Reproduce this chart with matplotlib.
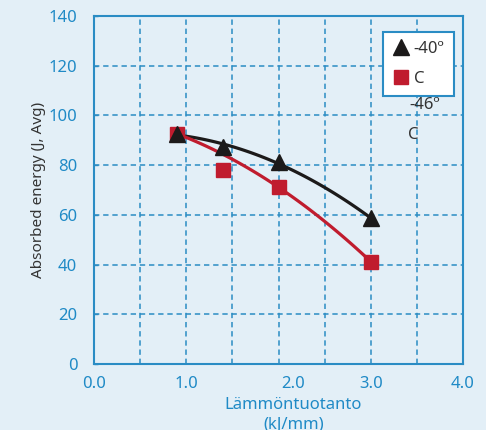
import numpy as np
import matplotlib
matplotlib.use("Agg")
import matplotlib.pyplot as plt
from matplotlib.lines import Line2D
from matplotlib.transforms import ScaledTranslation

# data
heat_input = [0.9, 1.4, 2.0, 3.0]
energy_40 = [92.6, 87.4, 81.4, 58.6]
energy_46 = [92.6, 78.1, 71.1, 41.2]
# trend curve for -46 passes through these points (1.4 sits off the line)
trend46_x = [0.9, 2.0, 3.0]
trend46_y = [92.6, 71.1, 41.2]

xticks = [0.0, 1.0, 2.0, 3.0, 4.0]
yticks = [0, 20, 40, 60, 80, 100, 120, 140]

bg = "#e3eff7"
blue = "#2a8cc4"
tick_blue = "#1f8ac6"
red = "#c01c2e"
black = "#1c1a1a"

plt.rcParams["font.family"] = ["Noto Sans", "DejaVu Sans"]

fig = plt.figure(figsize=(4.86, 4.30), dpi=100, facecolor=bg)
ax = fig.add_axes([0.1934, 0.1535, 0.7593, 0.8093])
ax.set_facecolor(bg)

# grid
for gx in np.arange(0.5, 4.0, 0.5):
    ax.axvline(gx, color=blue, lw=1.1, ls=(0, (3.5, 2.5)), zorder=1)
for gy in yticks[1:-1]:
    ax.axhline(gy, color=blue, lw=1.1, ls=(0, (3.5, 2.5)), zorder=1)

# trend curves
xs = np.linspace(heat_input[0], heat_input[-1], 100)
c40 = np.polyfit(heat_input, energy_40, 2)
ax.plot(xs, np.polyval(c40, xs), color=black, lw=2.3, zorder=2)
c46 = np.polyfit(trend46_x, trend46_y, 2)
xs2 = np.linspace(trend46_x[0], trend46_x[-1], 100)
ax.plot(xs2, np.polyval(c46, xs2), color=red, lw=2.3, zorder=2)

# markers
ax.plot(heat_input, energy_46, ls="none", marker="s", ms=10.5, color=red, zorder=3)
ax.plot(heat_input, energy_40, ls="none", marker="^", ms=11.5, color=black, zorder=4)

ax.set_xlim(0, 4)
ax.set_ylim(0, 140)
ax.set_xticks(xticks)
ax.set_xticklabels([f"{v:.1f}" for v in xticks])
ax.set_yticks(yticks)
ax.tick_params(axis="x", length=0, pad=9, labelsize=12, labelcolor=tick_blue)
ax.tick_params(axis="y", direction="in", length=3, width=1, color=blue,
               pad=12, labelsize=12, labelcolor=tick_blue)
# the 2.0 label sits off to the right in the reference
lbl = ax.get_xticklabels()[2]
lbl.set_transform(lbl.get_transform() + ScaledTranslation(0.15, 0, fig.dpi_scale_trans))

for s in ax.spines.values():
    s.set_color(blue)
    s.set_linewidth(1.5)

ax.set_ylabel("Absorbed energy (J, Avg)", fontsize=11, color="#333333", labelpad=2)
ax.text(2.16, -0.095, "Lämmöntuotanto\n(kJ/mm)", transform=ax.get_xaxis_transform(),
        ha="center", va="top", fontsize=12, color=tick_blue, linespacing=1.3)

handles = [Line2D([], [], ls="none", marker="^", ms=12, color=black),
           Line2D([], [], ls="none", marker="s", ms=10, color=red)]
leg = ax.legend(handles, ["-40º", "C"], loc="upper right",
                bbox_to_anchor=(0.975, 0.955), frameon=True, fancybox=False,
                framealpha=1, edgecolor=blue, fontsize=12, handlelength=1.0,
                handletextpad=0.3, borderpad=0.55, labelspacing=0.85,
                borderaxespad=0)
leg.get_frame().set_linewidth(1.5)
for t in leg.get_texts():
    t.set_color("#333333")
ax.text(3.58, 104, "-46º", fontsize=12, color="#333333", ha="center", va="center")
ax.text(3.46, 92, "C", fontsize=12, color="#333333", ha="center", va="center")

fig.savefig("out.png", dpi=100, facecolor=bg)
